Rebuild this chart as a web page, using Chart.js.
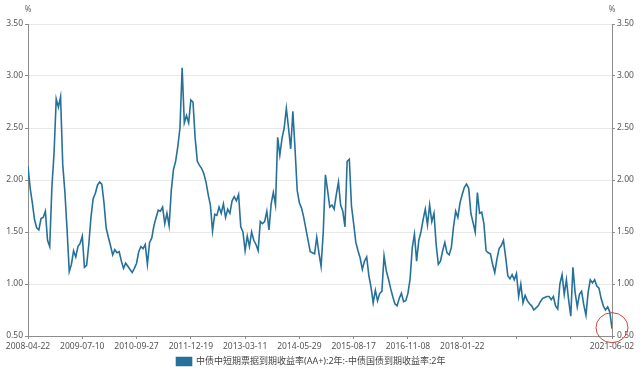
<!DOCTYPE html>
<html>
<head>
<meta charset="utf-8">
<script src="https://cdn.jsdelivr.net/npm/chart.js@4.4.1/dist/chart.umd.min.js"></script>
<style>
  html, body { margin: 0; padding: 0; background: #fff; }
</style>
</head>
<body>
<canvas id="myChart" width="640" height="370"></canvas>
<script>
// spread, % : one value every ~10 trading days, 2008-04-22 .. 2021-06-02
const spread = [
  2.13,1.92,1.78,1.62,1.54,1.52,1.63,1.64,1.70,1.42,
  1.36,1.93,2.26,2.78,2.70,2.80,2.15,1.88,1.52,1.12,
  1.19,1.32,1.26,1.36,1.39,1.46,1.16,1.18,1.38,1.64,
  1.82,1.87,1.95,1.98,1.96,1.78,1.54,1.45,1.37,1.28,
  1.33,1.30,1.31,1.22,1.15,1.20,1.17,1.14,1.11,1.15,
  1.20,1.31,1.36,1.34,1.38,1.19,1.40,1.44,1.56,1.64,
  1.71,1.70,1.74,1.58,1.68,1.56,1.90,2.10,2.18,2.32,
  2.50,3.08,2.55,2.62,2.55,2.77,2.75,2.40,2.18,2.14,
  2.11,2.06,1.98,1.86,1.76,1.51,1.67,1.66,1.74,1.68,
  1.77,1.64,1.72,1.68,1.80,1.84,1.80,1.86,1.55,1.50,
  1.32,1.46,1.36,1.50,1.42,1.38,1.32,1.60,1.58,1.60,
  1.70,1.52,1.77,1.88,1.76,2.41,2.24,2.40,2.50,2.69,
  2.50,2.30,2.66,2.30,1.90,1.78,1.73,1.64,1.53,1.42,
  1.31,1.30,1.29,1.45,1.30,1.17,1.50,2.05,1.90,1.74,
  1.76,1.72,1.86,1.98,1.76,1.70,1.55,2.18,2.20,1.75,
  1.58,1.40,1.32,1.25,1.14,1.22,1.26,1.08,0.97,0.82,
  0.94,0.84,0.91,0.93,1.27,1.13,1.05,0.96,0.88,0.81,
  0.79,0.86,0.91,0.83,0.84,0.91,1.05,1.35,1.48,1.22,
  1.42,1.50,1.62,1.72,1.57,1.76,1.60,1.68,1.38,1.19,
  1.22,1.32,1.40,1.30,1.28,1.35,1.55,1.70,1.64,1.78,
  1.86,1.93,1.96,1.92,1.68,1.59,1.50,1.88,1.68,1.69,
  1.58,1.32,1.30,1.29,1.19,1.11,1.24,1.34,1.37,1.42,
  1.26,1.08,1.05,1.09,1.04,1.10,0.88,1.00,0.82,0.89,
  0.84,0.81,0.79,0.75,0.77,0.79,0.83,0.86,0.87,0.88,
  0.88,0.85,0.88,0.79,0.76,1.00,1.09,0.90,1.04,0.85,
  0.69,1.16,0.92,0.78,0.90,0.93,0.80,0.70,0.92,1.04,
  1.01,1.04,0.98,0.96,0.86,0.79,0.75,0.78,0.73,0.57
];

// date labels shown under the axis (two are hidden by a watermark in the source)
const xTickLabels = ['2008-04-22','2009-07-10','2010-09-27','2011-12-19','2013-03-11',
  '2014-05-29','2015-08-17','2016-11-08','2018-01-22','','','2021-06-02'];
const yTickValues = [0.5, 1.0, 1.5, 2.0, 2.5, 3.0, 3.5];
const seriesName = '中债中短期票据到期收益率(AA+):2年:-中债国债到期收益率:2年';

const lineColor = '#26719a';
const axisColor = '#8c8c8c';
const labelColor = '#555';

// every 25th point gets a date, plus the last one
const labelStep = 25;
const tickIdx = xTickLabels.map((_, i) => i < xTickLabels.length - 1 ? i * labelStep : spread.length - 1);

Chart.defaults.font.family = '"Noto Sans", "Noto Sans CJK SC", sans-serif';

const extras = {
  id: 'extras',
  afterDraw(chart) {
    const c = chart.ctx, a = chart.chartArea;
    c.save();
    c.fillStyle = '#666';
    c.font = '8px "Noto Sans", sans-serif';
    c.textAlign = 'center';
    c.textBaseline = 'middle';
    c.fillText('%', a.left, 10);
    c.fillText('%', a.right, 10);
    // red ring round the latest reading
    const cx = chart.scales.x.getPixelForValue(spread.length - 1);
    const cy = chart.scales.y.getPixelForValue(0.58);
    c.strokeStyle = '#c8473f';
    c.lineWidth = 1;
    c.beginPath();
    c.ellipse(cx, cy, 16, 15, 0, 0, Math.PI * 2);
    c.stroke();
    c.restore();
  }
};

function yAxis(pos, onChart, w) {
  return {
    type: 'linear',
    position: pos,
    min: 0.5,
    max: 3.5,
    afterBuildTicks: s => { s.ticks = yTickValues.map(v => ({ value: v })); },
    afterFit: s => { s.width = w; },
    grid: { drawOnChartArea: onChart, color: '#e8e8e8', tickColor: axisColor, tickLength: 3 },
    border: { color: axisColor },
    ticks: { padding: 2, color: labelColor, font: { size: 8.5 }, callback: v => v.toFixed(2) }
  };
}

const ctx = document.getElementById('myChart').getContext('2d');
const mychart = new Chart(ctx, {
  type: 'line',
  data: {
    datasets: [{
      label: seriesName,
      data: spread.map((v, i) => ({ x: i, y: v })),
      borderColor: lineColor,
      backgroundColor: lineColor,
      borderWidth: 1.6,
      pointRadius: 0,
      tension: 0,
      yAxisID: 'y'
    }]
  },
  options: {
    responsive: false,
    animation: false,
    // negative left padding just pulls the centred legend a bit to the left
    layout: { padding: { top: 24, left: -18, right: 0, bottom: -6 } },
    plugins: {
      legend: {
        position: 'bottom',
        labels: { boxWidth: 15, boxHeight: 8, padding: 4, color: '#444', font: { size: 9 } }
      },
      tooltip: { enabled: false }
    },
    scales: {
      x: {
        type: 'linear',
        min: 0,
        max: spread.length - 1,
        afterBuildTicks: s => { s.ticks = tickIdx.map(v => ({ value: v })); },
        afterFit: s => { s.height = 17; s.paddingLeft = 0; s.paddingRight = 0; },
        grid: { drawOnChartArea: false, color: axisColor, tickLength: 3 },
        border: { color: axisColor },
        ticks: {
          autoSkip: false, maxRotation: 0, padding: 2, color: labelColor, font: { size: 8.5 },
          callback: (v, i) => xTickLabels[i]
        }
      },
      y: yAxis('left', true, 46),
      y2: yAxis('right', false, 28)
    }
  },
  plugins: [extras]
});
</script>
</body>
</html>
